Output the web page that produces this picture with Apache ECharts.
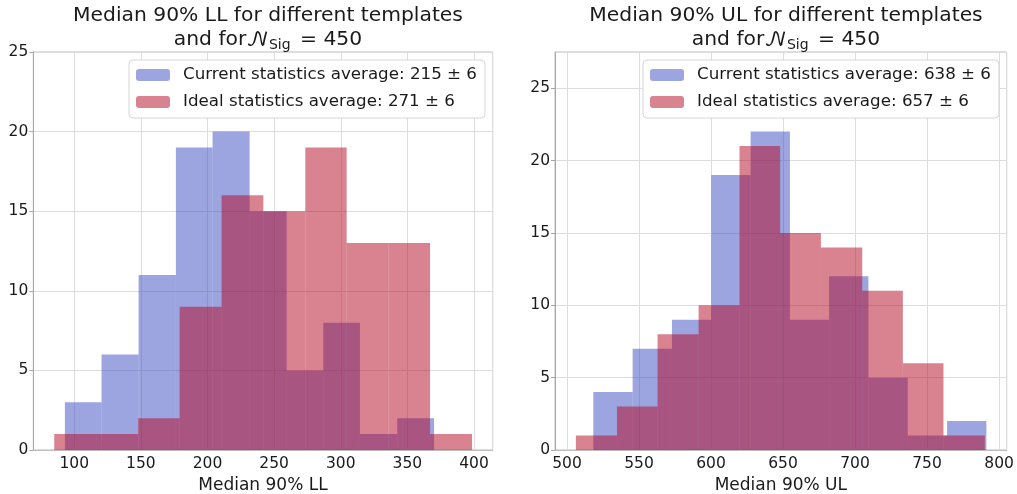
<!DOCTYPE html>
<html><head><meta charset="utf-8">
<script src="https://cdn.jsdelivr.net/npm/echarts@6/dist/echarts.min.js"></script>
<style>html,body{margin:0;padding:0;background:#fff}#c{width:1017px;height:494px}</style>
</head><body><div id="c"></div>
<script>
// ---- data ----
const llCurrentEdges = [93.0, 120.5, 148.3, 176.3, 203.8, 231.6, 259.4, 286.9, 314.4, 342.4, 370.0];
const llCurrentCounts = [3, 6, 11, 19, 20, 15, 5, 8, 1, 2];
const llIdealEdges = [85.0, 116.5, 148.0, 179.1, 210.6, 241.9, 273.4, 304.4, 335.9, 367.0, 398.5];
const llIdealCounts = [1, 1, 2, 9, 16, 15, 19, 13, 13, 1];

const ulCurrentEdges = [518.3, 545.6, 572.9, 600.2, 627.5, 654.8, 682.0, 709.3, 736.6, 763.9, 791.2];
const ulCurrentCounts = [4, 7, 9, 19, 22, 9, 12, 5, 1, 2];
const ulIdealEdges = [506.2, 534.7, 562.9, 591.4, 619.8, 648.0, 676.3, 705.0, 733.2, 761.4, 790.1];
const ulIdealCounts = [1, 3, 8, 10, 21, 15, 14, 11, 6, 1];

const seriesNames = [
  'Current statistics average: 215 \u00b1 6',
  'Ideal statistics average: 271 \u00b1 6',
  'Current statistics average: 638 \u00b1 6',
  'Ideal statistics average: 657 \u00b1 6'
];
const titlesLine1 = ['Median 90% LL for different templates', 'Median 90% UL for different templates'];
const xLabels = ['Median 90% LL', 'Median 90% UL'];
const nSig = '450';

// ---- styling ----
const FONT = 'DejaVu Sans';
const BLUE = 'rgba(59,75,193,0.5)';
const RED = 'rgba(179,5,33,0.5)';
const GRIDC = '#dddddd';
const FRAME = '#bdbdbd';
const TXT = '#1a1a1a';

function bins(edges, counts) {
  return counts.map((c, i) => [edges[i], edges[i + 1], c]);
}
function histSeries(name, idx, data, color) {
  return {
    type: 'custom', name: name, xAxisIndex: idx, yAxisIndex: idx,
    itemStyle: { color: color },
    encode: { x: [0, 1], y: 2 },
    data: data,
    renderItem: function (params, api) {
      const p0 = api.coord([api.value(0), api.value(2)]);
      const p1 = api.coord([api.value(1), 0]);
      return {
        type: 'rect',
        shape: { x: p0[0], y: p0[1], width: p1[0] - p0[0], height: p1[1] - p0[1] },
        style: { fill: color }
      };
    }
  };
}

const grids = [
  { left: 33.3, right: 1017 - 492.7, top: 52, bottom: 44 },
  { left: 555, right: 1017 - 1006.7, top: 52, bottom: 44 }
];
const xRanges = [[69.3, 414.0], [491.7, 805.3]];
const yMax = [25, 27.5];

function xAxis(i) {
  return {
    type: 'value', gridIndex: i, min: xRanges[i][0], max: xRanges[i][1], splitNumber: 6,
    name: xLabels[i], nameLocation: 'middle', nameGap: 20,
    nameTextStyle: { fontFamily: FONT, fontSize: 17, color: TXT },
    axisLine: { show: true, lineStyle: { color: FRAME } },
    axisTick: { show: false },
    axisLabel: { fontFamily: FONT, fontSize: 15.5, color: TXT, margin: 6, showMinLabel: false, showMaxLabel: false },
    splitLine: { show: true, lineStyle: { color: GRIDC, width: 1 } }
  };
}
function yAxis(i) {
  return {
    type: 'value', gridIndex: i, min: 0, max: yMax[i], interval: 5,
    axisLine: { show: true, lineStyle: { color: '#a8a8a8' } },
    axisTick: { show: true, length: 4, lineStyle: { color: '#a8a8a8' } },
    axisLabel: { fontFamily: FONT, fontSize: 15.5, color: TXT, margin: 5, showMaxLabel: i === 0 },
    splitLine: { show: true, lineStyle: { color: GRIDC, width: 1 } }
  };
}
function title(i, cx) {
  return {
    text: titlesLine1[i] + '\n{n|and for}{m|\ud835\udca9}{s|Sig}{n| = ' + nSig + '}',
    left: cx, top: -1, textAlign: 'center',
    textStyle: {
      fontFamily: FONT, fontSize: 20.3, fontWeight: 'normal', color: TXT, lineHeight: 24,
      rich: {
        n: { fontFamily: FONT, fontSize: 20.3, color: TXT, lineHeight: 24 },
        m: { fontFamily: "'DejaVu Math TeX Gyre', 'DejaVu Serif', 'DejaVu Sans'", fontSize: 20.3, color: TXT, lineHeight: 24 },
        s: { fontFamily: FONT, fontSize: 14, color: TXT, lineHeight: 24, padding: [10, 3, 0, 0] }
      }
    }
  };
}
function legend(i, left, names) {
  return {
    orient: 'vertical', left: left, top: 60, data: names,
    itemWidth: 34, itemHeight: 12, itemGap: 7,
    padding: [5, 8, 6, 7],
    backgroundColor: '#ffffff', borderColor: '#d6d6d6', borderWidth: 1, borderRadius: 4,
    textStyle: { fontFamily: FONT, fontSize: 16.7, color: TXT, lineHeight: 20, padding: [0, 0, 0, 8] },
    selectedMode: false
  };
}

const chart = echarts.init(document.getElementById('c'), null, { renderer: 'canvas' });
chart.setOption({
  animation: false,
  backgroundColor: '#ffffff',
  title: [title(0, 263), title(1, 781)],
  grid: grids.map(g => Object.assign({ show: true, borderColor: FRAME, borderWidth: 1, backgroundColor: 'transparent', containLabel: false, outerBoundsMode: 'none' }, g)),
  xAxis: [xAxis(0), xAxis(1)],
  yAxis: [yAxis(0), yAxis(1)],
  legend: [legend(0, 129, [seriesNames[0], seriesNames[1]]), legend(1, 643, [seriesNames[2], seriesNames[3]])],
  series: [
    histSeries(seriesNames[0], 0, bins(llCurrentEdges, llCurrentCounts), BLUE),
    histSeries(seriesNames[1], 0, bins(llIdealEdges, llIdealCounts), RED),
    histSeries(seriesNames[2], 1, bins(ulCurrentEdges, ulCurrentCounts), BLUE),
    histSeries(seriesNames[3], 1, bins(ulIdealEdges, ulIdealCounts), RED)
  ]
});
</script></body></html>
